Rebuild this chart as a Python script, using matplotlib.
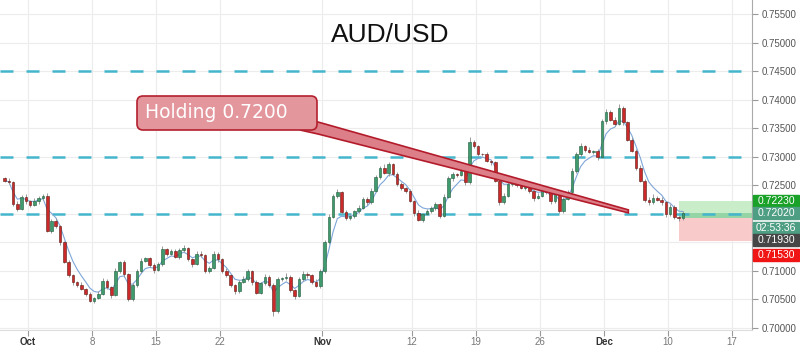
import numpy as np
import pandas as pd
import matplotlib
matplotlib.use('Agg')
import matplotlib.pyplot as plt
from matplotlib.patches import Rectangle, FancyBboxPatch, Polygon

plt.rcParams['font.family'] = ['Liberation Sans', 'DejaVu Sans']

# 8h candles (x = trading day, 0 = Oct 1)
first_open = 0.7262
closes = [
    0.7258, 0.7255, 0.7218, 0.7208, 0.7230, 0.7222, 0.7215, 0.7222, 0.7228, 0.7232,
    0.7170, 0.7188, 0.7178, 0.7150, 0.7115, 0.7092, 0.7080, 0.7075, 0.7068, 0.7060,
    0.7048, 0.7052, 0.7060, 0.7082, 0.7072, 0.7058, 0.7100, 0.7115, 0.7094, 0.7050,
    0.7075, 0.7100, 0.7117, 0.7122, 0.7110, 0.7102, 0.7112, 0.7138, 0.7130, 0.7135,
    0.7124, 0.7137, 0.7140, 0.7120, 0.7112, 0.7130, 0.7128, 0.7100, 0.7105, 0.7130,
    0.7120, 0.7100, 0.7092, 0.7075, 0.7065, 0.7080, 0.7085, 0.7100, 0.7080, 0.7062,
    0.7078, 0.7090, 0.7075, 0.7030, 0.7085, 0.7088, 0.7090, 0.7066, 0.7056, 0.7085,
    0.7095, 0.7092, 0.7080, 0.7074, 0.7100, 0.7150, 0.7195, 0.7232, 0.7238, 0.7204,
    0.7192, 0.7196, 0.7205, 0.7210, 0.7226, 0.7220, 0.7240, 0.7265, 0.7280, 0.7272,
    0.7287, 0.7270, 0.7252, 0.7245, 0.7240, 0.7222, 0.7202, 0.7190, 0.7200, 0.7205,
    0.7210, 0.7217, 0.7197, 0.7230, 0.7262, 0.7270, 0.7268, 0.7275, 0.7255, 0.7325,
    0.7318, 0.7305, 0.7304, 0.7292, 0.7290, 0.7258, 0.7220, 0.7232, 0.7252, 0.7258,
    0.7250, 0.7245, 0.7250, 0.7240, 0.7228, 0.7232, 0.7240, 0.7238, 0.7222, 0.7236,
    0.7205, 0.7226, 0.7238, 0.7275, 0.7305, 0.7318, 0.7312, 0.7308, 0.7310, 0.7300,
    0.7362, 0.7378, 0.7365, 0.7358, 0.7385, 0.7360, 0.7330, 0.7310, 0.7280, 0.7258,
    0.7225, 0.7220, 0.7228, 0.7225, 0.7220, 0.7200, 0.7212, 0.7195, 0.7193, 0.7202,
]
# wick lengths in pips above / below the body
wick_up = [
    3, 4, 2, 5, 3, 4, 2, 6, 3, 2, 4, 3, 5, 2, 3, 4, 2, 3, 5, 2,
    3, 2, 4, 6, 3, 2, 5, 3, 4, 2, 3, 4, 6, 3, 2, 4, 3, 5, 2, 3,
    4, 3, 6, 2, 3, 5, 4, 2, 3, 4, 3, 2, 5, 3, 2, 4, 6, 3, 2, 4,
    3, 4, 2, 3, 5, 2, 6, 3, 2, 4, 5, 3, 2, 6, 3, 4, 5, 3, 6, 2,
    3, 4, 2, 5, 3, 4, 6, 3, 4, 7, 3, 2, 4, 3, 2, 4, 3, 5, 2, 3,
    4, 3, 2, 5, 4, 3, 2, 4, 5, 10, 4, 3, 2, 4, 3, 2, 3, 5, 4, 6,
    3, 4, 5, 3, 2, 4, 5, 3, 2, 6, 3, 4, 3, 5, 4, 6, 3, 5, 2, 4,
    4, 5, 3, 4, 8, 3, 2, 4, 3, 5, 3, 4, 6, 3, 4, 2, 5, 3, 2, 3,
]
wick_dn = [
    2, 3, 4, 3, 2, 4, 3, 2, 4, 3, 2, 4, 3, 5, 2, 3, 4, 3, 2, 4,
    3, 4, 2, 3, 4, 5, 2, 3, 4, 3, 2, 3, 4, 2, 3, 5, 2, 3, 4, 3,
    2, 3, 4, 3, 5, 2, 3, 4, 3, 2, 4, 3, 2, 4, 5, 3, 2, 3, 4, 3,
    2, 3, 4, 9, 3, 2, 4, 3, 5, 2, 3, 4, 3, 2, 4, 3, 2, 3, 4, 5,
    3, 2, 4, 3, 2, 4, 3, 2, 4, 3, 5, 2, 3, 4, 3, 2, 6, 3, 4, 2,
    3, 4, 5, 3, 2, 4, 3, 2, 5, 3, 2, 4, 3, 2, 4, 3, 5, 3, 2, 4,
    3, 2, 4, 3, 5, 2, 3, 4, 5, 3, 4, 3, 2, 4, 3, 5, 3, 2, 4, 5,
    3, 4, 2, 5, 3, 4, 3, 2, 4, 3, 5, 4, 3, 2, 4, 5, 3, 4, 6, 3,
]

levels = [0.7450, 0.7300, 0.7200]
price_ticks = [0.700, 0.705, 0.710, 0.715, 0.720, 0.725, 0.730, 0.735, 0.740, 0.745, 0.750, 0.755]
hidden_ticks = [0.715, 0.720]   # covered by the price tags
tick_days = [0, 5, 10, 15, 23, 30, 35, 40, 45, 50, 55]
tick_labels = ['Oct', '8', '15', '22', 'Nov', '12', '19', '26', 'Dec', '10', '17']

target, last, entry, stop = 0.7223, 0.7202, 0.7193, 0.7153
tool_start = 50.86
tag_texts = ['0.72230', '0.72020', '02:53:36', '0.71930', '0.71530']
tag_colors = ['#19a128', '#4e9e83', '#4e9e83', '#464646', '#f01414']
tag_ypx = [201, 213, 228, 240, 255]

n = len(closes)
t = -2 + (np.arange(n) + 0.5) / 3
c = np.array(closes)
o = np.concatenate(([first_open], c[:-1]))
hi = np.maximum(o, c) + np.array(wick_up[:n]) * 1e-4
lo = np.minimum(o, c) - np.array(wick_dn[:n]) * 1e-4
up = c >= o

fig = plt.figure(figsize=(8, 3.54), dpi=100)
ax = fig.add_axes([0, 24 / 354, 752 / 800, 330 / 354])
xmin, xmax = -2.19, 56.56
ax.set_xlim(xmin, xmax)
ax.set_ylim(0.69965, 0.75745)

ax.set_yticks(price_ticks)
ax.set_yticklabels(['' if any(abs(p - h) < 1e-6 for h in hidden_ticks) else '%.5f' % p
                    for p in price_ticks])
ax.yaxis.tick_right()
ax.tick_params(axis='y', length=4, color='#999999', labelsize=7, labelcolor='#555555', pad=3)
ax.set_xticks(tick_days)
ax.set_xticklabels(tick_labels)
ax.tick_params(axis='x', length=4, color='#999999', labelsize=7, labelcolor='#777777', pad=1)
for lab in ax.get_xticklabels():
    if lab.get_text() in ('Oct', 'Nov', 'Dec'):
        lab.set_color('#333333')
        lab.set_fontweight('bold')

ax.grid(color='#ececec', lw=0.8)
ax.set_axisbelow(True)
for s in ['top', 'left']:
    ax.spines[s].set_visible(False)
ax.spines['right'].set_color('#aaaaaa')
ax.spines['bottom'].set_color('#dddddd')

# position tool
ax.add_patch(Rectangle((tool_start, entry), xmax - tool_start, target - entry, color='#c9ecc9', lw=0, zorder=1))
ax.add_patch(Rectangle((tool_start, entry), xmax - tool_start, last - entry, color='#95d4a4', lw=0, zorder=1))
ax.add_patch(Rectangle((tool_start, stop), xmax - tool_start, entry - stop, color='#f9caca', lw=0, zorder=1))

for lv in levels:
    ax.axhline(lv, color='#44b6cc', lw=1.8, dashes=(5.2, 5.2), zorder=2)

ma = pd.Series(c).ewm(span=5).mean()
ax.plot(t, ma, color='#7ea6d8', lw=0.8, zorder=2)

ax.vlines(t, lo, hi, color='#9a9a9a', lw=0.7, zorder=3)
body = np.maximum(np.abs(c - o), 0.00004)
ax.bar(t, body, bottom=np.minimum(o, c), width=0.2,
       color=np.where(up, '#3f9a6d', '#cc2a2a'),
       edgecolor=np.where(up, '#1f5a3c', '#5b1a13'), linewidth=0.4, zorder=4)

# callout "Holding 0.7200"
tip = ax.transAxes.inverted().transform(ax.transData.transform((46.9, 0.7204)))
W, H = 752.0, 330.0
pointer = Polygon([(318 / W, 1 - 122 / H), tip + [0, 0.005], tip - [0, 0.004],
                   (318 / W, 1 - 134 / H), (300 / W, 1 - 130 / H)],
                  closed=True, transform=ax.transAxes, facecolor='#dc7f88',
                  edgecolor='#b31b2b', lw=1.2, zorder=6)
ax.add_patch(pointer)
box = FancyBboxPatch((137 / W, 1 - 130 / H), 180 / W, 34 / H,
                     boxstyle='round,pad=0,rounding_size=0.008', mutation_aspect=W / H,
                     transform=ax.transAxes, facecolor='#e3969c', edgecolor='#b3202e',
                     lw=1.2, zorder=7)
ax.add_patch(box)
ax.text(145 / W, 1 - 113 / H, 'Holding 0.7200', transform=ax.transAxes, ha='left', va='center',
        fontsize=13.5, color='white', family='DejaVu Sans', zorder=8)

fig.text(0.4875, 0.901, 'AUD/USD', fontsize=19, ha='center', va='center', color='#111111')

for txt, col, ypx in zip(tag_texts, tag_colors, tag_ypx):
    fig.add_artist(Rectangle((753 / 800, 1 - (ypx + 6) / 354), 46 / 800, 12 / 354,
                             transform=fig.transFigure, color=col, zorder=5))
    fig.text(776 / 800, 1 - ypx / 354, txt, ha='center', va='center', color='white',
             fontsize=7.5, zorder=6)

fig.savefig('out.png', dpi=100)
